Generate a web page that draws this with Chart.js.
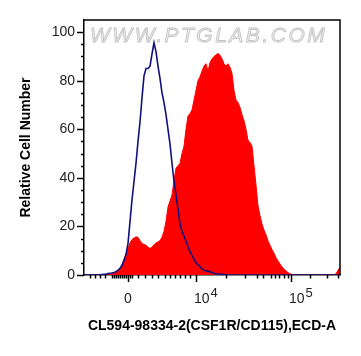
<!DOCTYPE html>
<html><head><meta charset="utf-8">
<script src="https://cdn.jsdelivr.net/npm/chart.js@4"></script>
<style>html,body{margin:0;padding:0;background:#fff}#wrap{width:361px;height:356px;position:relative}</style>
</head><body><div id="wrap"><canvas id="c" width="361" height="356"></canvas></div>
<script>
// Histogram bins (display channel units along the biexponential axis)
const channels = [0,2,4,6,8,10,12,14,16,18,20,22,24,26,28,30,32,34,36,38,40,42,44,46,48,50,52,54,56,58,60,62,64,66,68,70,72,74,76,78,80,82,84,86,88,90,92,94,96,98,100,102,104,106,108,110,112,114,116,118,120,122,124,126,128,130,132,134,136,138,140,142,144,146,148,150,152,154,156,158,160,162,164,166,168,170,172,174,176,178,180,182,184,186,188,190,192,194,196,198,200,202,204,206,208,210,212,214,216,218,220,222,224,226,228,230,232,234,236,238,240,242,244,246,248,250,252,254,256];
// CL594-98334-2 stained sample (red, filled)
const stainedCounts = [0,0,0,0,0,0,0,0,0,0,0,0,0,
 0.3,0.5,0.8,1.3,2,2.7,4,6.5,8.5,11,13.3,14.6,15.2,15.7,15.5,14.2,13,12.6,12.3,11.5,10.9,11.5,12.5,13.2,13.6,14.2,15.5,18,22,28,30.5,33,39,44,45,46,50,53,60,65.5,66.5,68,72,76,80,81.6,84,86,87,84,87.5,89,90,90.6,91.2,90.5,89,87,86,87,85.5,83,76,72,71,69,66,63.5,60,55.5,54.5,53,45,37,28.5,24.5,21,18.5,16.5,14,12.3,10.5,9,7.2,5.8,4.5,3.4,2.4,1.7,1,0.5,0.2,
 0,0,0,0,0,0,0,0,0,0,0,0,0,0,0,0,0,0,0,0,0,
 0.5,2,3];
// Control (blue line)
const controlCounts = [0,0,0,0,0,0,0,0,
 0.1,0.2,0.3,0.4,0.6,0.7,0.8,1,1.4,2,2.8,4,6,8.5,13,22,31,38.5,46,55,63,73,82,85,85,86,91,95.6,92,86,81,75,71,66,60,54,46,38.5,33,27,21,18,16,14,11.5,9.7,8,6.5,5,4.2,3.5,2.5,2,1.7,1.5,1.3,1,0.7,0.5,0.4,0.3,0.3,0.2,0.1,0,
 0,0,0,0,0,0,0,0,0,0,0,0,0,0,0,0,0,0,0,0,0,0,0,0,0,0,0,0,0,0,0,0,0,0,0,0,0,0,0,0,0,0,0,0,0,0,0,0,0,0,0,0,0,0,0,0];
const yTickValues = [0,20,40,60,80,100];
const yMinorTicks = [5,10,15,25,30,35,45,50,55,65,70,75,85,90,95];
const xTickPositions = [44,112,207];
const xTickBases = ['0','10','10'];
const xTickExponents = ['','4','5'];
const xMinorTicks = [6,11,16,21,28,30,32,34,36,38,40,42,46,48,54,61,68,74,81,86,91,96,101,106,142,161,173,179,187,191,195,200,204,226,243,254];
const xTitle = 'CL594-98334-2(CSF1R/CD115),ECD-A';
const yTitle = 'Relative Cell Number';
const watermark = 'WWW.PTGLAB.COM';

const FONT = '"Liberation Sans", Arial, sans-serif';

const decor = {
  id: 'decor',
  afterDraw(chart) {
    const ctx = chart.ctx, a = chart.chartArea;
    const xs = chart.scales.x, ys = chart.scales.y;
    ctx.save();
    ctx.strokeStyle = '#000'; ctx.lineWidth = 1.5;
    ctx.beginPath();
    ctx.moveTo(a.left, a.top); ctx.lineTo(a.right, a.top); ctx.lineTo(a.right, a.bottom);
    ctx.stroke();
    ctx.beginPath();
    yTickValues.forEach(v => { const y = Math.round(ys.getPixelForValue(v)) + 0.5; ctx.moveTo(a.left - 7, y); ctx.lineTo(a.left, y); });
    yMinorTicks.forEach(v => { const y = Math.round(ys.getPixelForValue(v)) + 0.5; ctx.moveTo(a.left - 3, y); ctx.lineTo(a.left, y); });
    xTickPositions.forEach(v => { const x = Math.round(xs.getPixelForValue(v)) + 0.5; ctx.moveTo(x, a.bottom); ctx.lineTo(x, a.bottom + 7); });
    xMinorTicks.forEach(v => { const x = Math.round(xs.getPixelForValue(v)) + 0.5; ctx.moveTo(x, a.bottom); ctx.lineTo(x, a.bottom + 3.5); });
    ctx.stroke();
    // x tick labels with superscripts
    ctx.fillStyle = '#222';
    ctx.textBaseline = 'alphabetic';
    xTickPositions.forEach((v, i) => {
      const x = xs.getPixelForValue(v);
      const base = a.bottom + 28;
      ctx.font = '14px ' + FONT;
      if (!xTickExponents[i]) {
        ctx.textAlign = 'center';
        ctx.fillText(xTickBases[i], x, base);
      } else {
        ctx.textAlign = 'left';
        const x0 = x - 2;
        ctx.fillText(xTickBases[i], x0, base);
        const w = ctx.measureText(xTickBases[i]).width;
        ctx.font = '13px ' + FONT;
        ctx.fillText(xTickExponents[i], x0 + w + 1, base - 6);
      }
    });
    // watermark
    ctx.font = 'italic 21px ' + FONT;
    ctx.textAlign = 'left';
    try { ctx.letterSpacing = '2.5px'; } catch (e) {}
    ctx.fillStyle = '#f1f1f1';
    ctx.strokeStyle = '#c4c4c4';
    ctx.lineWidth = 0.9;
    ctx.fillText(watermark, a.left + 6, a.top + 22);
    ctx.strokeText(watermark, a.left + 6, a.top + 22);
    ctx.restore();
  }
};

new Chart(document.getElementById('c'), {
  type: 'line',
  data: {
    datasets: [
      {
        label: 'Control',
        data: channels.map((c, i) => ({x: c, y: controlCounts[i]})),
        borderColor: '#10107e',
        borderWidth: 1.6,
        pointRadius: 0,
        fill: false,
        tension: 0
      },
      {
        label: 'CL594-98334-2',
        data: channels.map((c, i) => ({x: c, y: stainedCounts[i]})),
        borderColor: '#ff0000',
        backgroundColor: '#ff0000',
        borderWidth: 1,
        pointRadius: 0,
        fill: 'origin',
        tension: 0
      }
    ]
  },
  options: {
    responsive: false,
    animation: false,
    devicePixelRatio: 1,
    layout: { padding: { top: 20, right: 21, left: 0, bottom: 0 } },
    plugins: { legend: { display: false }, tooltip: { enabled: false } },
    scales: {
      x: {
        type: 'linear', min: 0, max: 256,
        grid: { display: false, drawTicks: false },
        border: { display: true, color: '#000', width: 1.5 },
        ticks: { display: false },
        title: { display: true, text: xTitle, color: '#000',
          font: { family: FONT, size: 14, weight: 'bold' }, padding: { top: 0, bottom: 21 } },
        afterFit: s => { s.height = 81; }
      },
      y: {
        type: 'linear', min: 0, max: 105,
        grid: { display: false, drawTicks: false },
        border: { display: true, color: '#000', width: 1.5 },
        afterBuildTicks: s => { s.ticks = yTickValues.map(v => ({ value: v })); },
        ticks: { color: '#222', padding: 9, font: { family: FONT, size: 14 } },
        title: { display: true, text: yTitle, color: '#000',
          font: { family: FONT, size: 14, weight: 'bold' }, padding: { top: 18, bottom: 0 } },
        afterFit: s => { s.width = 84; }
      }
    }
  },
  plugins: [decor]
});
</script></body></html>
